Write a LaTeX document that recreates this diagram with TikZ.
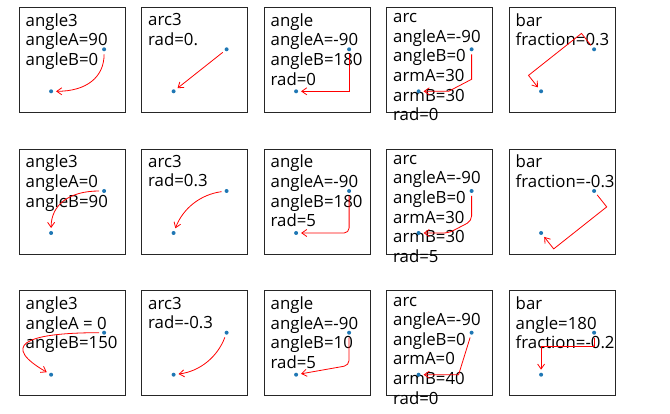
\documentclass[tikz,border=0pt]{standalone}
\usepackage{fontspec}
\setmainfont{Open Sans}
\usetikzlibrary{calc,arrows.meta}
\definecolor{mplblue}{HTML}{1F77B4}
\tikzset{
  panel/.style={draw=black!85, line width=0.8pt},
  lbl/.style={anchor=north west, inner sep=0pt, align=left,
    font=\fontsize{16.8}{19.6}\selectfont, execute at begin node=\strut},
  mpldot/.style={fill=mplblue},
  conn/.style={red, line width=0.8pt, -{Straight Barb[length=5pt,width=7pt]},
    shorten >=5pt, shorten <=5pt}
}
\begin{document}
\begin{tikzpicture}[x=1pt,y=1pt]
  \useasboundingbox (0,0) rectangle (670,413);
  % Frames and the two points of each panel
  \foreach \r in {1,2,3}
    \foreach \c in {1,...,5} {
      \begin{scope}[shift={({19.3+122.5*(\c-1)},{300.7-141.7*(\r-1)})}]
        \draw[panel] (0,0) rectangle (106,105);
        \coordinate (t\r\c) at (6.2,99);
        \coordinate (a\r\c) at (31.8,21);
        \coordinate (b\r\c) at (84.8,63);
      \end{scope}
    }
  % Labels
  \node[lbl] (l11) at (t11) {angle3\\angleA=90\\angleB=0};
  \node[lbl] (l12) at (t12) {arc3\\rad=0.};
  \node[lbl] (l13) at (t13) {angle\\angleA=-90\\angleB=180\\rad=0};
  \node[lbl] (l14) at (t14) {arc\\angleA=-90\\angleB=0\\armA=30\\armB=30\\rad=0};
  \node[lbl] (l15) at (t15) {bar\\fraction=0.3};
  \node[lbl] (l21) at (t21) {angle3\\angleA=0\\angleB=90};
  \node[lbl] (l22) at (t22) {arc3\\rad=0.3};
  \node[lbl] (l23) at (t23) {angle\\angleA=-90\\angleB=180\\rad=5};
  \node[lbl] (l24) at (t24) {arc\\angleA=-90\\angleB=0\\armA=30\\armB=30\\rad=5};
  \node[lbl] (l25) at (t25) {bar\\fraction=-0.3};
  \node[lbl] (l31) at (t31) {angle3\\angleA = 0\\angleB=150};
  \node[lbl] (l32) at (t32) {arc3\\rad=-0.3};
  \node[lbl] (l33) at (t33) {angle\\angleA=-90\\angleB=10\\rad=5};
  \node[lbl] (l34) at (t34) {arc\\angleA=-90\\angleB=0\\armA=0\\armB=40\\rad=0};
  \node[lbl] (l35) at (t35) {bar\\angle=180\\fraction=-0.2};
  % Points
  \foreach \r in {1,2,3}
    \foreach \c in {1,...,5}
      \fill[mpldot] (a\r\c) circle (2) (b\r\c) circle (2);
  % Row 1
  \coordinate (k11) at (b11 |- a11);
  \draw[conn] (b11) .. controls ($(b11)!2/3!(k11)$) and ($(a11)!2/3!(k11)$) .. (a11);
  \draw[conn] (b12) -- (a12);
  \draw[conn] (b13) |- (a13);
  \draw[conn] (b14) -- ++(0,-30) -- ($(a14)+(30,0)$) -- (a14);
  \draw[conn] (b15) -- ($(b15)!0.3!-90:(a15)$) -- ($(a15)!0.3!90:(b15)$) -- (a15);
  % Row 2
  \coordinate (k21) at (a21 |- b21);
  \draw[conn] (b21) .. controls ($(b21)!2/3!(k21)$) and ($(a21)!2/3!(k21)$) .. (a21);
  \coordinate (k22) at ($(b22)!0.5!(a22)!0.6!-90:(a22)$);
  \draw[conn] (b22) .. controls ($(b22)!2/3!(k22)$) and ($(a22)!2/3!(k22)$) .. (a22);
  \draw[conn, rounded corners=5pt] (b23) |- (a23);
  \draw[conn, rounded corners=5pt] (b24) -- ++(0,-30) -- ($(a24)+(30,0)$) -- (a24);
  \draw[conn] (b25) -- ($(b25)!0.3!90:(a25)$) -- ($(a25)!0.3!-90:(b25)$) -- (a25);
  % Row 3
  \coordinate (k31) at ($(a31)+(150:84)$);
  \draw[conn] (b31) .. controls ($(b31)!2/3!(k31)$) and ($(a31)!2/3!(k31)$) .. (a31);
  \coordinate (k32) at ($(b32)!0.5!(a32)!0.6!90:(a32)$);
  \draw[conn] (b32) .. controls ($(b32)!2/3!(k32)$) and ($(a32)!2/3!(k32)$) .. (a32);
  \coordinate (k33) at ($(a33)+(10:53.8)$);
  \draw[conn, rounded corners=5pt] (b33) -- (k33) -- (a33);
  \draw[conn] (b34) -- ($(a34)+(40,0)$) -- (a34);
  \draw[conn] (b35) -- ++(0,-13.5) -| (a35);
\end{tikzpicture}
\end{document}
